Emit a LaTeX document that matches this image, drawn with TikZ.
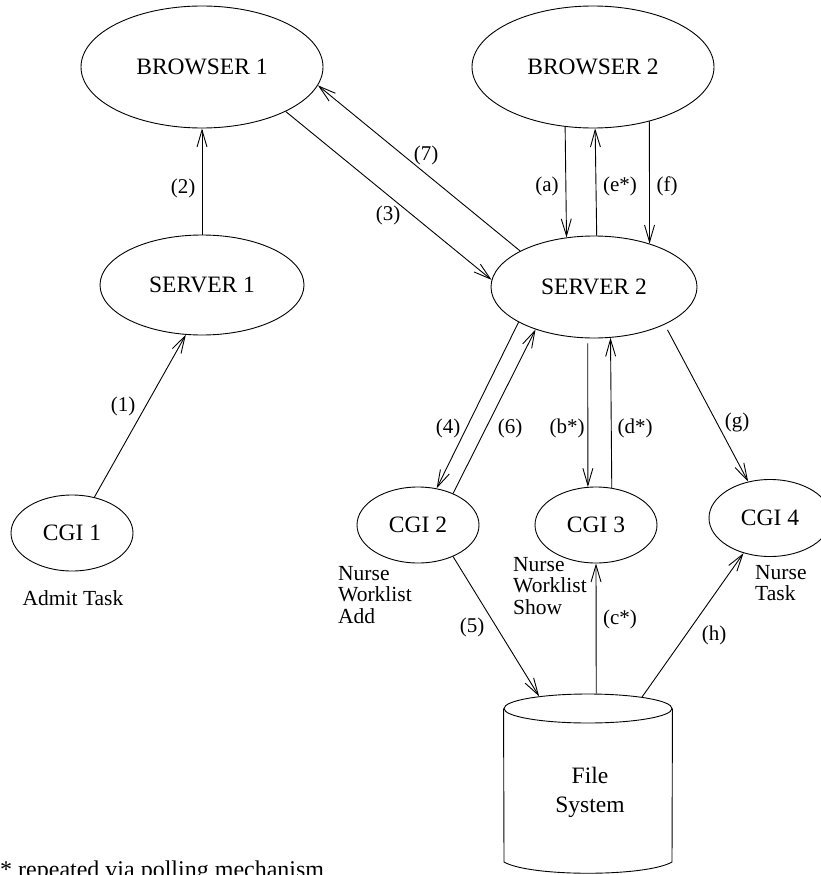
\documentclass[tikz,border=0pt]{standalone}
\usepackage{fontspec}
\setmainfont{Liberation Serif}
\usetikzlibrary{shapes.geometric,arrows.meta}
\begin{document}
\begin{tikzpicture}[x=1pt,y=-1pt,
 ell/.style={ellipse,draw,line width=0.9pt,inner sep=0pt,font=\fontsize{23.5}{28}\selectfont},
 arr/.style={draw,line width=0.9pt,-{Straight Barb[length=17pt,width=10pt,line width=0.9pt]}},
 lbl/.style={inner sep=0pt,font=\fontsize{21}{24}\selectfont},
 side/.style={inner sep=0pt,anchor=north west,align=left,font=\fontsize{21.5}{21.5}\selectfont}]
\useasboundingbox (0,0) rectangle (820,875);

% nodes
\node[ell,minimum width=242pt,minimum height=122pt] (b1) at (202,67) {BROWSER 1};
\node[ell,minimum width=242pt,minimum height=122pt] (b2) at (593,67) {BROWSER 2};
\node[ell,minimum width=204pt,minimum height=100pt] (s1) at (202,285) {SERVER 1};
\node[ell,minimum width=206pt,minimum height=102pt] (s2) at (594,287) {SERVER 2};
\node[ell,minimum width=122pt,minimum height=76pt] (c1) at (72,533) {CGI 1};
\node[ell,minimum width=122pt,minimum height=76pt] (c2) at (418,525) {CGI 2};
\node[ell,minimum width=122pt,minimum height=76pt] (c3) at (596,525) {CGI 3};
\node[ell,minimum width=122pt,minimum height=77pt] (c4) at (770,518) {CGI 4};

% file system cylinder
\node[ellipse,draw,line width=0.9pt,minimum width=168pt,minimum height=29pt,inner sep=0pt] (fstop) at (588,708.5) {};
\draw[line width=0.9pt] (fstop.west) -- (504,862) .. controls (530,877) and (646,877) .. (672,862) -- (fstop.east);
\node[inner sep=0pt,align=center,font=\fontsize{23.5}{29}\selectfont] (fs) at (590,792) {File\\System};

% connectors
\draw[arr] (c1.58.8) -- (s1.252.3);
\draw[arr] (s1.90) -- (b1.270);
\draw[arr] (b1.332.1) -- (s2.176.1);
\draw[arr] (s2.154.1) -- (b1.351.9);
\draw[arr] (b2.245.6) -- (s2.119.7);
\draw[arr] (s2.87.8) -- (b2.272.8);
\draw[arr] (b2.316) -- (s2.38.1);
\draw[arr] (s2.205.3) -- (c2.63.4);
\draw[arr] (c2.42.6) -- (s2.216.9);
\draw[arr,shorten <=5pt] (s2.263.3) -- (c3.102);
\draw[arr] (c3.67.8) -- (s2.288.7);
\draw[arr,shorten <=6pt] (s2.332.3) -- (c4.121.1);
\draw[arr] (c2.318.5) -- (fstop.166.6);
\draw[arr] (fstop.61) -- (c3.270);
\draw[arr] (fstop.12.4) -- (c4.233.3);

% connector labels
\node[lbl] (l1) at (123,406) {(1)};
\node[lbl] (l2) at (183,188) {(2)};
\node[lbl] (l3) at (388,215) {(3)};
\node[lbl] (l7) at (426,155) {(7)};
\node[lbl] (la) at (547,186) {(a)};
\node[lbl] (le) at (620,186) {(e*)};
\node[lbl] (lf) at (667,186) {(f)};
\node[lbl] (l4) at (448,428) {(4)};
\node[lbl] (l6) at (510,428) {(6)};
\node[lbl] (lb) at (567,428) {(b*)};
\node[lbl] (ld) at (635,428) {(d*)};
\node[lbl] (lg) at (737,422) {(g)};
\node[lbl] (l5) at (472,627) {(5)};
\node[lbl] (lc) at (620,619) {(c*)};
\node[lbl] (lh) at (714,635) {(h)};

% side texts
\node[inner sep=0pt,anchor=base,font=\fontsize{21.5}{21.5}\selectfont] (t1) at (73,605) {Admit Task};
\node[side] (t2) at (338,566) {Nurse\\Worklist\\Add};
\node[side] (t3) at (513,557) {Nurse\\Worklist\\Show};
\node[side] (t4) at (755,565) {Nurse\\Task};
\node[inner sep=0pt,anchor=base west,font=\fontsize{24}{24}\selectfont] (note) at (0,877) {* repeated via polling mechanism};
\end{tikzpicture}
\end{document}
